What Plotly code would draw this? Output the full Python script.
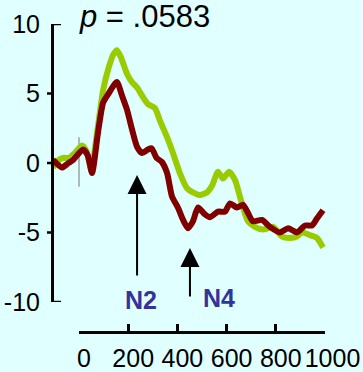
import plotly.graph_objects as go

# ERP waveforms (time in ms, amplitude in microvolts)
green_ms = [-106, -85, -65, -40, -15, 12, 30, 50, 77, 98, 120, 140, 154, 170, 195, 215,
            236, 260, 280, 309, 329, 358, 382, 410, 439, 463, 492, 520, 541, 565, 585,
            610, 634, 654, 667, 687, 715, 748, 789, 825, 858, 886, 906, 939, 967, 992]
green_uv = [-0.4, 0.1, 0.3, 0.3, 0.7, 1.2, 0.8, -0.5, 2.6, 5.2, 6.8, 7.8, 8.1, 7.6, 6.4, 5.8,
            5.4, 4.7, 4.2, 3.9, 3.0, 1.8, 0.65, -0.8, -1.9, -2.2, -2.4, -2.2, -1.7, -0.7, -1.2,
            -0.7, -1.3, -2.5, -3.3, -4.3, -4.7, -4.9, -4.7, -5.4, -5.5, -5.4, -5.1, -5.3, -5.5, -6.2]

red_ms = [-106, -69, -45, -24, 16, 35, 53, 77, 98, 118, 154, 175, 195, 215, 236, 256,
          280, 295, 315, 337, 358, 378, 402, 423, 443, 463, 484, 512, 533, 565, 593,
          614, 642, 667, 687, 707, 744, 776, 817, 850, 886, 919, 947, 967, 992]
red_uv = [0.15, -0.4, -0.1, 0.15, 0.9, 0.5, -0.8, 2.1, 4.3, 4.9, 5.8, 4.8, 3.8, 2.4, 1.1, 0.65,
          0.9, 1.0, 0.3, 0.0, -0.8, -2.5, -3.3, -4.2, -4.8, -4.3, -3.3, -3.8, -4.0, -3.6, -3.6,
          -3.0, -3.3, -3.1, -3.7, -4.3, -4.2, -4.7, -5.1, -4.8, -5.1, -4.6, -4.6, -4.1, -3.5]

x_ticks = [0, 200, 400, 600, 800, 1000]
x_tick_text = ["0", "200", "400", "600", "800", "\u20091000"]
y_ticks = [-10, -5, 0, 5, 10]
y_tick_text = ["-10", "-5", "0", "5", "10"]

# component markers: (label, latency ms, arrow tip uV, arrow tail uV, label ms, label uV)
components = [("N2", 236, -0.94, -8.33, 252, -10.0),
              ("N4", 451, -6.23, -9.86, 571, -9.86)]
p_label = "<i>p</i> = .0583"

W, H = 363, 372
BG = "#e0ffff"
FONT = "Liberation Sans, Arial, sans-serif"

fig = go.Figure()
fig.add_trace(go.Scatter(x=green_ms, y=green_uv, mode="lines", xaxis="x", yaxis="y",
                         line=dict(color="#99cc00", width=6, shape="spline", smoothing=0.6),
                         hoverinfo="skip", showlegend=False))
fig.add_trace(go.Scatter(x=red_ms, y=red_uv, mode="lines", xaxis="x", yaxis="y",
                         line=dict(color="#800000", width=6, shape="spline", smoothing=0.6),
                         hoverinfo="skip", showlegend=False))
# empty trace to instantiate the visible (display) axes
fig.add_trace(go.Scatter(x=[None], y=[None], xaxis="x2", yaxis="y2",
                         hoverinfo="skip", showlegend=False))

# data axes span the whole canvas
x_px0, x_px_per_ms = 79, 0.246
y_px0, y_px_per_uv = 162, 13.8
x_range = [-x_px0 / x_px_per_ms, (W - x_px0) / x_px_per_ms]
y_range = [-(H - y_px0) / y_px_per_uv, y_px0 / y_px_per_uv]

shapes = [
    # stimulus onset marker
    dict(type="line", xref="x", yref="y", x0=0, x1=0, y0=-1.8, y1=1.8,
         line=dict(color="#a0a0a0", width=1.5), layer="below"),
]
# y-axis tick stubs and end caps
for v in y_ticks:
    if v in (-10, 10):
        x0, x1 = 52 / W, 61 / W
    else:
        x0, x1 = 47 / W, 52 / W
    shapes.append(dict(type="line", xref="paper", yref="y2", x0=x0, x1=x1, y0=v, y1=v,
                       line=dict(color="black", width=2.5)))

annotations = [
    dict(x=-8, y=10.57, xref="x", yref="y", text=p_label, showarrow=False,
         xanchor="left", yanchor="middle", font=dict(family=FONT, size=31, color="black")),
]
for name, ms, tip, tail, lx, ly in components:
    annotations.append(dict(x=ms, y=tip, ax=ms, ay=tail, xref="x", yref="y",
                            axref="x", ayref="y", text="", showarrow=True,
                            arrowhead=2, arrowsize=1.9, arrowwidth=2, arrowcolor="black"))
    annotations.append(dict(x=lx, y=ly, xref="x", yref="y", text="<b>%s</b>" % name,
                            showarrow=False, xanchor="center", yanchor="middle",
                            font=dict(family=FONT, size=25, color="#333399")))

fig.update_layout(
    width=W, height=H, margin=dict(l=0, r=0, t=0, b=0, autoexpand=False),
    paper_bgcolor=BG, plot_bgcolor="rgba(0,0,0,0)",
    xaxis=dict(domain=[0, 1], range=x_range, visible=False, fixedrange=True, automargin=False),
    yaxis=dict(domain=[0, 1], range=y_range, visible=False, fixedrange=True, automargin=False),
    xaxis2=dict(domain=[79 / W, 325 / W], range=[0, 1000], anchor="free",
                position=1 - 332 / H, showline=True, linecolor="black", linewidth=3,
                ticks="inside", ticklen=7, tickwidth=2.5, tickcolor="black",
                tickvals=x_ticks, ticktext=x_tick_text, tickangle=0,
                ticklabelstandoff=3, ticklabelshift=5, automargin=False,
                tickfont=dict(family=FONT, size=25, color="black"),
                showgrid=False, zeroline=False, fixedrange=True),
    yaxis2=dict(domain=[1 - 302 / H, 1 - 24 / H], range=[-10, 10], anchor="free",
                position=52 / W, showline=True, linecolor="black", linewidth=3,
                ticks="", tickvals=y_ticks, ticktext=y_tick_text,
                ticklabelstandoff=6, automargin=False,
                tickfont=dict(family=FONT, size=25, color="black"),
                showgrid=False, zeroline=False, fixedrange=True),
    shapes=shapes, annotations=annotations, showlegend=False,
)

fig.write_html("out.html", config={"displayModeBar": False})
